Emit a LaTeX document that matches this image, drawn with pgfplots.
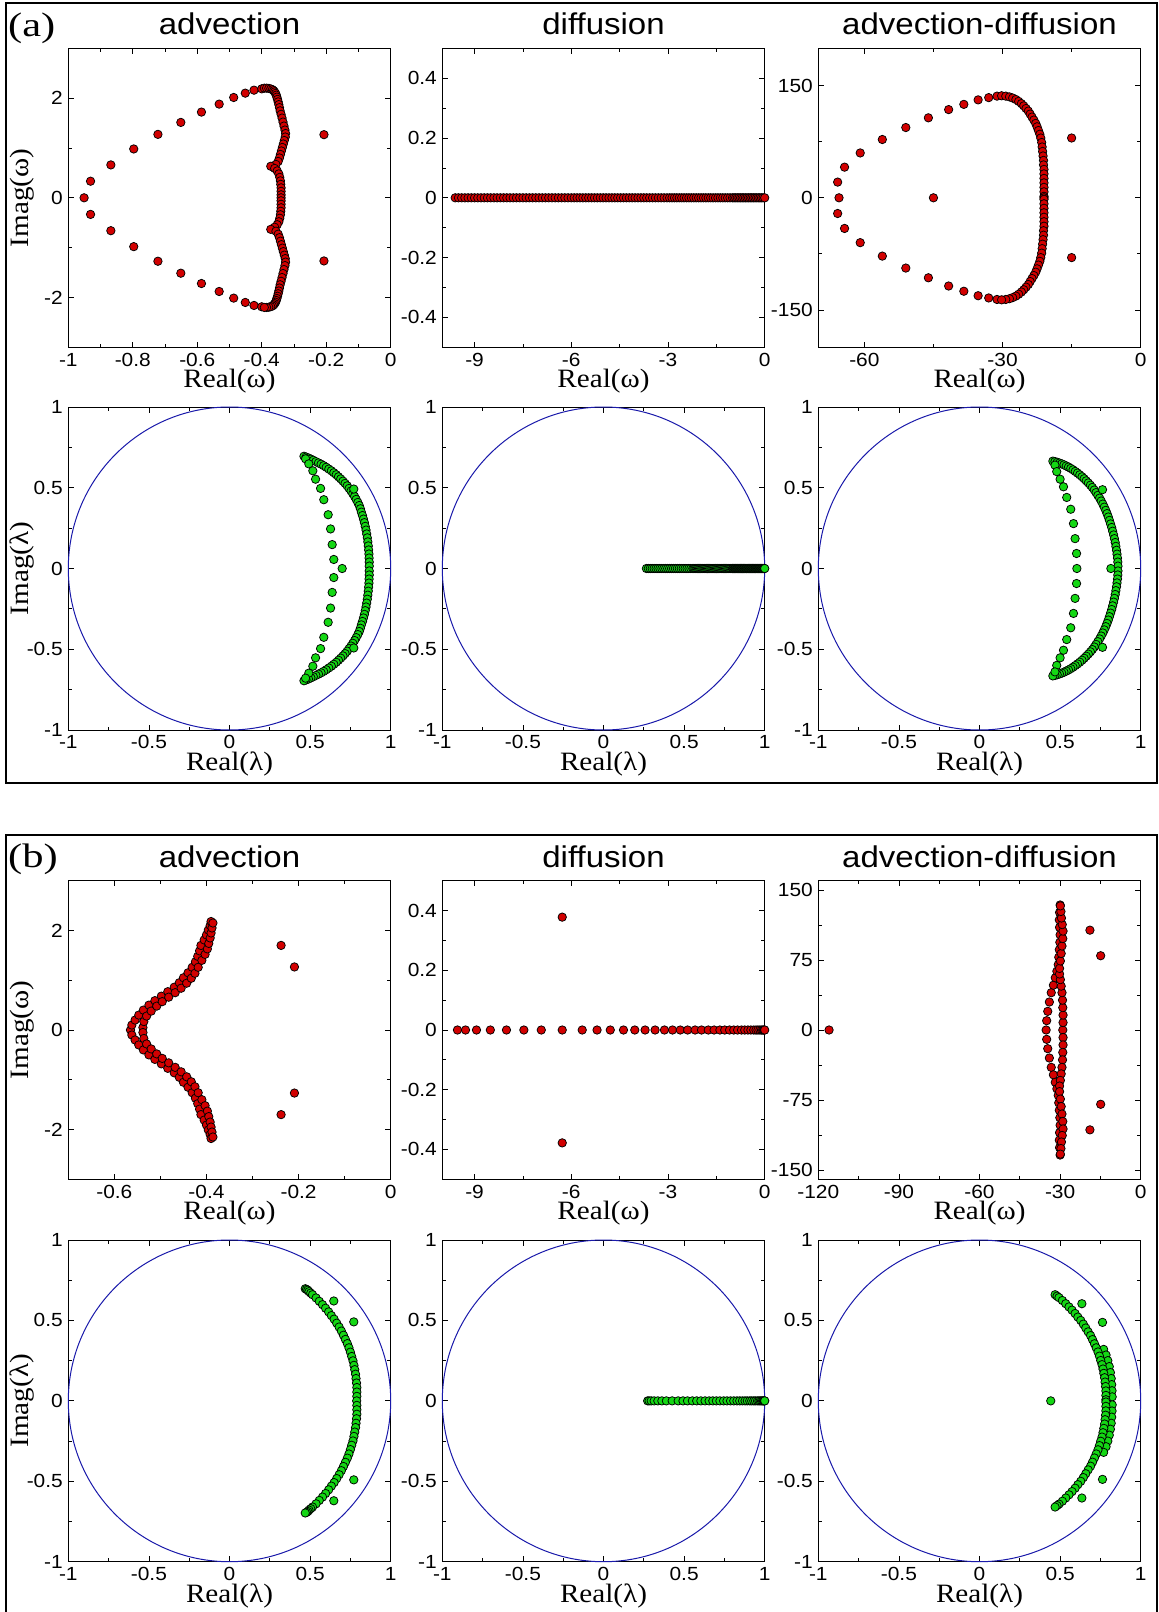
\documentclass[border=0pt]{standalone}
\usepackage{fontspec}
\setmainfont{Liberation Serif}[FakeStretch=1.1]
\newfontfamily\sansf{Liberation Sans}[FakeStretch=1.1]
\newfontfamily\panf{Liberation Serif}[FakeStretch=1.25]
\usepackage{pgfplots}
\pgfplotsset{compat=1.18}
\definecolor{mred}{RGB}{210,0,0}
\definecolor{mgreen}{RGB}{20,215,20}
\definecolor{mblue}{RGB}{25,25,170}
\newcommand{\tickfont}{\sansf\fontsize{19bp}{19bp}\selectfont}
\newcommand{\titlefont}{\sansf\fontsize{30bp}{30bp}\selectfont}
\newcommand{\labfont}{\rmfamily\fontsize{26.5bp}{26.5bp}\selectfont}
\newcommand{\panfont}{\panf\fontsize{34bp}{34bp}\selectfont}
\pgfplotsset{
  base/.style={
    scale only axis, width=322.4bp, clip=false, anchor=north west,
    axis line style={line width=1bp, black},
    every tick/.style={black, line width=0.8bp},
    tick align=inside,
    major tick length=5.5bp, minor tick length=3.5bp,
    tick label style={font=\tickfont},
    /pgf/number format/assume math mode=true,
    xticklabel style={inner sep=0pt, anchor=north, yshift=-5.5bp},
    yticklabel style={inner sep=0pt, anchor=east, xshift=-5.3bp},
    xlabel style={font=\labfont, inner sep=0pt, at={(axis description cs:0.5,0)}, anchor=north, yshift=-21.5bp},
    ylabel style={font=\labfont, inner sep=0pt, at={(axis description cs:-0.1445,0.5)}, anchor=center},
    title style={font=\titlefont, inner sep=0pt, at={(axis description cs:0.5,1)}, anchor=base, yshift=7.5bp},
  },
  lam/.style={xmin=-1, xmax=1, ymin=-1, ymax=1,
    xtick={-1,-0.5,0,0.5,1}, minor xtick={-0.75,-0.25,0.25,0.75},
    ytick={-1,-0.5,0,0.5,1}, minor ytick={-0.75,-0.25,0.25,0.75},
    xlabel={Real(λ)}},
  redpts/.style={only marks, mark=*, mark size=4.2bp, mark options={fill=mred, draw=black, line width=0.75bp}},
  grnpts/.style={only marks, mark=*, mark size=4.2bp, mark options={fill=mgreen, draw=black, line width=0.75bp}},
}
\begin{document}
\begin{tikzpicture}
\path[use as bounding box] (0,0) rectangle (1159bp,-1612bp);
% frames
\draw[line width=2.2bp, black] (6bp,-3bp) rectangle (1157bp,-783bp);
\draw[line width=2.2bp, black] (6bp,-1613bp) -- (6bp,-835bp) -- (1157bp,-835bp) -- (1157bp,-1613bp);
\node[font=\panfont, inner sep=0pt, anchor=base west] at (8bp,-36bp) {(a)};
\node[font=\panfont, inner sep=0pt, anchor=base west] at (8bp,-867.5bp) {(b)};

% ===== (a) row 1 =====
\begin{axis}[base, at={(68.3bp,-48.3bp)}, height=299bp,
  xmin=-1, xmax=0, ymin=-3, ymax=3,
  xtick={-1,-0.8,-0.6,-0.4,-0.2,0}, minor xtick={-0.9,-0.7,-0.5,-0.3,-0.1},
  ytick={-2,0,2}, minor ytick={-1,1},
  title={advection}, xlabel={Real(ω)}, ylabel={Imag(ω)}]
\addplot[redpts] coordinates {(-0.951,0) (-0.931,0.333) (-0.868,0.66) (-0.797,0.98) (-0.722,1.273) (-0.651,1.513) (-0.587,1.72) (-0.532,1.88) (-0.487,2.013) (-0.451,2.1) (-0.424,2.16) (-0.4,2.187)
(-0.931,-0.333) (-0.868,-0.66) (-0.797,-0.98) (-0.722,-1.273) (-0.651,-1.513) (-0.587,-1.72) (-0.532,-1.88) (-0.487,-2.013) (-0.451,-2.1) (-0.424,-2.16) (-0.4,-2.187)};
\addplot[redpts] coordinates {(-0.392,2.2) (-0.385,2.2) (-0.378,2.195) (-0.372,2.185) (-0.367,2.17) (-0.363,2.15) (-0.36,2.125) (-0.357,2.095) (-0.355,2.06) (-0.353,2.02) (-0.351,1.975) (-0.349,1.925) (-0.347,1.87) (-0.345,1.81) (-0.343,1.745) (-0.34,1.675) (-0.337,1.6) (-0.334,1.52) (-0.331,1.44) (-0.328,1.36) (-0.326,1.29) (-0.327,1.22) (-0.33,1.15) (-0.333,1.08) (-0.336,1.01) (-0.339,0.94) (-0.342,0.87) (-0.345,0.8) (-0.349,0.73) (-0.356,0.67) (-0.372,0.633) (-0.36,0.59) (-0.352,0.54) (-0.347,0.48) (-0.344,0.41) (-0.342,0.34) (-0.341,0.27) (-0.34,0.2) (-0.34,0.13) (-0.34,0.06) (-0.34,0)
(-0.34,-0.06) (-0.34,-0.13) (-0.34,-0.2) (-0.341,-0.27) (-0.342,-0.34) (-0.344,-0.41) (-0.347,-0.48) (-0.352,-0.54) (-0.36,-0.59) (-0.372,-0.633) (-0.356,-0.67) (-0.349,-0.73) (-0.345,-0.8) (-0.342,-0.87) (-0.339,-0.94) (-0.336,-1.01) (-0.333,-1.08) (-0.33,-1.15) (-0.327,-1.22) (-0.326,-1.29) (-0.328,-1.36) (-0.331,-1.44) (-0.334,-1.52) (-0.337,-1.6) (-0.34,-1.675) (-0.343,-1.745) (-0.345,-1.81) (-0.347,-1.87) (-0.349,-1.925) (-0.351,-1.975) (-0.353,-2.02) (-0.355,-2.06) (-0.357,-2.095) (-0.36,-2.125) (-0.363,-2.15) (-0.367,-2.17) (-0.372,-2.185) (-0.378,-2.195) (-0.385,-2.2) (-0.392,-2.2)};
\addplot[redpts] coordinates {(-0.207,1.267) (-0.207,-1.267)};
\end{axis}

\begin{axis}[base, at={(442.3bp,-48.3bp)}, height=299bp,
  xmin=-10, xmax=0, ymin=-0.5, ymax=0.5,
  xtick={-9,-6,-3,0}, minor xtick={-7.5,-4.5,-1.5},
  ytick={-0.4,-0.2,0,0.2,0.4}, minor ytick={-0.3,-0.1,0.1,0.3},
  title={diffusion}, xlabel={Real(ω)}]
\addplot[redpts] coordinates {(-9.6,0) (-9.5,0) (-9.4,0) (-9.3,0) (-9.2,0) (-9.1,0) (-9.0,0) (-8.9,0) (-8.8,0) (-8.7,0) (-8.6,0) (-8.5,0) (-8.4,0) (-8.3,0) (-8.2,0) (-8.1,0) (-8.0,0) (-7.9,0) (-7.8,0) (-7.7,0) (-7.6,0) (-7.5,0) (-7.4,0) (-7.3,0) (-7.2,0) (-7.1,0) (-7.0,0) (-6.9,0) (-6.8,0) (-6.7,0) (-6.6,0) (-6.5,0) (-6.4,0) (-6.3,0) (-6.2,0) (-6.1,0) (-6.0,0)
(-5.91,0) (-5.82,0) (-5.73,0) (-5.64,0) (-5.55,0) (-5.46,0) (-5.37,0) (-5.28,0) (-5.19,0) (-5.10,0) (-5.01,0) (-4.92,0) (-4.83,0) (-4.74,0) (-4.65,0) (-4.56,0) (-4.47,0) (-4.38,0) (-4.29,0) (-4.20,0) (-4.11,0) (-4.02,0) (-3.93,0) (-3.84,0) (-3.75,0) (-3.66,0) (-3.57,0) (-3.48,0) (-3.39,0) (-3.30,0) (-3.21,0) (-3.12,0) (-3.03,0)
(-2.95,0) (-2.875,0) (-2.8,0) (-2.725,0) (-2.65,0) (-2.575,0) (-2.5,0) (-2.425,0) (-2.35,0) (-2.275,0) (-2.2,0) (-2.125,0) (-2.05,0) (-1.975,0) (-1.9,0) (-1.825,0) (-1.75,0) (-1.675,0) (-1.6,0) (-1.525,0) (-1.45,0) (-1.375,0) (-1.3,0) (-1.225,0) (-1.15,0) (-1.075,0) (-1.0,0)
(-0.95,0) (-0.9,0) (-0.85,0) (-0.8,0) (-0.75,0) (-0.7,0) (-0.65,0) (-0.6,0) (-0.55,0) (-0.5,0) (-0.45,0) (-0.4,0) (-0.35,0) (-0.3,0) (-0.25,0) (-0.2,0) (-0.15,0) (-0.1,0) (-0.05,0) (0,0)};
\end{axis}

\begin{axis}[base, at={(818.3bp,-48.3bp)}, height=299bp,
  xmin=-70, xmax=0, ymin=-200, ymax=200,
  xtick={-60,-30,0}, minor xtick={-45,-15},
  ytick={-150,0,150}, minor ytick={-75,75},
  title={advection-diffusion}, xlabel={Real(ω)}]
\addplot[redpts] coordinates {(-65.5,0) (-65.8,21) (-64.3,41) (-60.9,60) (-56.1,78) (-51.0,94) (-46.1,107) (-41.7,118) (-38.4,125) (-35.3,131) (-33.0,134) (-31.2,136)
(-65.8,-21) (-64.3,-41) (-60.9,-60) (-56.1,-78) (-51.0,-94) (-46.1,-107) (-41.7,-118) (-38.4,-125) (-35.3,-131) (-33.0,-134) (-31.2,-136)};
\addplot[redpts] coordinates {(-30.2,136.5) (-29.3,136) (-28.5,135) (-27.8,133.5) (-27.1,131.5) (-26.5,129) (-25.9,126) (-25.4,123) (-24.9,119.5) (-24.4,116) (-24.0,112) (-23.6,108) (-23.2,104) (-22.8,99.5) (-22.5,95) (-22.2,90) (-21.9,85) (-21.7,80) (-21.5,74) (-21.4,68) (-21.3,62) (-21.2,56) (-21.1,50) (-21.1,44) (-21.0,38) (-21.0,32) (-21.0,26) (-21.0,20) (-21.0,14) (-21.0,8) (-21.0,2) (-21.0,0)
(-21.0,-2) (-21.0,-8) (-21.0,-14) (-21.0,-20) (-21.0,-26) (-21.0,-32) (-21.0,-38) (-21.1,-44) (-21.1,-50) (-21.2,-56) (-21.3,-62) (-21.4,-68) (-21.5,-74) (-21.7,-80) (-21.9,-85) (-22.2,-90) (-22.5,-95) (-22.8,-99.5) (-23.2,-104) (-23.6,-108) (-24.0,-112) (-24.4,-116) (-24.9,-119.5) (-25.4,-123) (-25.9,-126) (-26.5,-129) (-27.1,-131.5) (-27.8,-133.5) (-28.5,-135) (-29.3,-136) (-30.2,-136.5)};
\addplot[redpts] coordinates {(-45,0) (-15,80) (-15,-80)};
\end{axis}

% ===== (a) row 2 =====
\begin{axis}[base, lam, at={(68.3bp,-407bp)}, height=323bp, ylabel={Imag(λ)}]
\draw[mblue, line width=1bp] (axis cs:0,0) ellipse [x radius=1, y radius=1];
\addplot[grnpts] coordinates {(0.462,0.695) (0.475,0.69) (0.49,0.684) (0.505,0.677) (0.52,0.67) (0.536,0.662) (0.552,0.654) (0.568,0.646) (0.584,0.637) (0.6,0.627) (0.616,0.616) (0.632,0.605) (0.647,0.593) (0.662,0.581) (0.676,0.568) (0.69,0.555) (0.704,0.541) (0.717,0.527) (0.73,0.512) (0.742,0.496) (0.754,0.48) (0.765,0.463) (0.776,0.446) (0.786,0.428) (0.796,0.409) (0.805,0.39) (0.812,0.37) (0.818,0.349) (0.825,0.328) (0.831,0.306) (0.837,0.284) (0.842,0.261) (0.847,0.238) (0.851,0.214) (0.855,0.19) (0.858,0.165) (0.861,0.14) (0.863,0.115) (0.865,0.09) (0.866,0.065) (0.867,0.04) (0.867,0.015)
(0.867,-0.015) (0.867,-0.04) (0.866,-0.065) (0.865,-0.09) (0.863,-0.115) (0.861,-0.14) (0.858,-0.165) (0.855,-0.19) (0.851,-0.214) (0.847,-0.238) (0.842,-0.261) (0.837,-0.284) (0.831,-0.306) (0.825,-0.328) (0.818,-0.349) (0.812,-0.37) (0.805,-0.39) (0.796,-0.409) (0.786,-0.428) (0.776,-0.446) (0.765,-0.463) (0.754,-0.48) (0.742,-0.496) (0.73,-0.512) (0.717,-0.527) (0.704,-0.541) (0.69,-0.555) (0.676,-0.568) (0.662,-0.581) (0.647,-0.593) (0.632,-0.605) (0.616,-0.616) (0.6,-0.627) (0.584,-0.637) (0.568,-0.646) (0.552,-0.654) (0.536,-0.662) (0.52,-0.67) (0.505,-0.677) (0.49,-0.684) (0.475,-0.69) (0.462,-0.695)};
\addplot[grnpts] coordinates {(0.472,0.679) (0.492,0.648) (0.517,0.605) (0.534,0.553) (0.565,0.496) (0.585,0.426) (0.612,0.333) (0.627,0.245) (0.637,0.148) (0.647,0.056)
(0.647,-0.056) (0.637,-0.148) (0.627,-0.245) (0.612,-0.333) (0.585,-0.426) (0.565,-0.496) (0.534,-0.553) (0.517,-0.605) (0.492,-0.648) (0.472,-0.679)};
\addplot[grnpts] coordinates {(0.699,0) (0.771,0.492) (0.771,-0.492)};
\end{axis}

\begin{axis}[base, lam, at={(442.3bp,-407bp)}, height=323bp]
\draw[mblue, line width=1bp] (axis cs:0,0) ellipse [x radius=1, y radius=1];
\addplot[grnpts] coordinates {(0.266,0) (0.278,0) (0.290,0) (0.302,0) (0.314,0) (0.326,0) (0.338,0) (0.350,0) (0.362,0) (0.374,0) (0.386,0) (0.398,0) (0.410,0) (0.422,0) (0.434,0) (0.446,0) (0.458,0) (0.470,0) (0.482,0) (0.494,0) (0.506,0) (0.518,0) (0.530,0) (0.542,0) (0.554,0)
(0.561,0) (0.568,0) (0.575,0) (0.582,0) (0.589,0) (0.596,0) (0.603,0) (0.610,0) (0.617,0) (0.624,0) (0.631,0) (0.638,0) (0.645,0) (0.652,0) (0.659,0) (0.666,0) (0.673,0) (0.680,0) (0.687,0) (0.694,0) (0.701,0) (0.708,0) (0.715,0) (0.722,0) (0.729,0) (0.736,0) (0.743,0) (0.750,0) (0.757,0) (0.764,0) (0.771,0) (0.778,0) (0.785,0) (0.792,0) (0.799,0)
(0.803,0) (0.807,0) (0.811,0) (0.815,0) (0.819,0) (0.823,0) (0.827,0) (0.831,0) (0.835,0) (0.839,0) (0.843,0) (0.847,0) (0.851,0) (0.855,0) (0.859,0) (0.863,0) (0.867,0) (0.871,0) (0.875,0) (0.879,0) (0.883,0) (0.887,0) (0.891,0) (0.895,0) (0.899,0) (0.903,0) (0.907,0) (0.911,0) (0.915,0) (0.919,0) (0.923,0) (0.927,0) (0.931,0) (0.935,0) (0.939,0) (0.943,0) (0.947,0) (0.951,0) (0.955,0) (0.959,0) (0.963,0) (0.967,0) (0.971,0) (0.975,0) (0.979,0) (0.983,0) (0.987,0) (0.991,0) (0.995,0) (0.999,0) (1.0,0)};
\end{axis}

\begin{axis}[base, lam, at={(818.3bp,-407bp)}, height=323bp]
\draw[mblue, line width=1bp] (axis cs:0,0) ellipse [x radius=1, y radius=1];
\addplot[grnpts] coordinates {(0.455,0.665) (0.468,0.662) (0.482,0.658) (0.496,0.653) (0.51,0.648) (0.524,0.642) (0.538,0.635) (0.552,0.628) (0.566,0.62) (0.58,0.611) (0.594,0.601) (0.608,0.591) (0.622,0.58) (0.636,0.568) (0.649,0.556) (0.662,0.543) (0.675,0.53) (0.688,0.516) (0.7,0.502) (0.712,0.486) (0.723,0.47) (0.734,0.453) (0.745,0.436) (0.755,0.418) (0.765,0.399) (0.774,0.38) (0.783,0.36) (0.791,0.34) (0.799,0.319) (0.806,0.298) (0.813,0.276) (0.82,0.254) (0.826,0.231) (0.832,0.208) (0.837,0.185) (0.842,0.161) (0.846,0.137) (0.85,0.113) (0.853,0.089) (0.856,0.065) (0.858,0.04) (0.859,0.015)
(0.859,-0.015) (0.858,-0.04) (0.856,-0.065) (0.853,-0.089) (0.85,-0.113) (0.846,-0.137) (0.842,-0.161) (0.837,-0.185) (0.832,-0.208) (0.826,-0.231) (0.82,-0.254) (0.813,-0.276) (0.806,-0.298) (0.799,-0.319) (0.791,-0.34) (0.783,-0.36) (0.774,-0.38) (0.765,-0.399) (0.755,-0.418) (0.745,-0.436) (0.734,-0.453) (0.723,-0.47) (0.712,-0.486) (0.7,-0.502) (0.688,-0.516) (0.675,-0.53) (0.662,-0.543) (0.649,-0.556) (0.636,-0.568) (0.622,-0.58) (0.608,-0.591) (0.594,-0.601) (0.58,-0.611) (0.566,-0.62) (0.552,-0.628) (0.538,-0.635) (0.524,-0.642) (0.51,-0.648) (0.496,-0.653) (0.482,-0.658) (0.468,-0.662) (0.455,-0.665)};
\addplot[grnpts] coordinates {(0.468,0.64) (0.479,0.6) (0.5,0.553) (0.521,0.506) (0.541,0.44) (0.566,0.367) (0.583,0.278) (0.593,0.185) (0.602,0.093) (0.604,0)
(0.602,-0.093) (0.593,-0.185) (0.583,-0.278) (0.566,-0.367) (0.541,-0.44) (0.521,-0.506) (0.5,-0.553) (0.479,-0.6) (0.468,-0.64)};
\addplot[grnpts] coordinates {(0.815,0) (0.763,0.488) (0.763,-0.488)};
\end{axis}

% ===== (b) row 3 =====
\begin{axis}[base, at={(68.3bp,-880.7bp)}, height=298.6bp,
  xmin=-0.7, xmax=0, ymin=-3, ymax=3,
  xtick={-0.6,-0.4,-0.2,0}, minor xtick={-0.5,-0.3,-0.1},
  ytick={-2,0,2}, minor ytick={-1,1},
  title={advection}, xlabel={Real(ω)}, ylabel={Imag(ω)}]
\addplot[redpts] coordinates {(-0.565,0) (-0.562,0.1) (-0.555,0.2) (-0.547,0.3) (-0.537,0.4) (-0.525,0.5) (-0.512,0.59) (-0.498,0.68) (-0.484,0.77) (-0.47,0.86) (-0.459,0.95) (-0.45,1.05) (-0.44,1.15) (-0.431,1.26) (-0.424,1.37) (-0.419,1.48) (-0.415,1.59) (-0.412,1.7) (-0.405,1.81) (-0.4,1.91) (-0.396,2.01) (-0.392,2.1) (-0.39,2.18)
(-0.562,-0.1) (-0.555,-0.2) (-0.547,-0.3) (-0.537,-0.4) (-0.525,-0.5) (-0.512,-0.59) (-0.498,-0.68) (-0.484,-0.77) (-0.47,-0.86) (-0.459,-0.95) (-0.45,-1.05) (-0.44,-1.15) (-0.431,-1.26) (-0.424,-1.37) (-0.419,-1.48) (-0.415,-1.59) (-0.412,-1.7) (-0.405,-1.81) (-0.4,-1.91) (-0.396,-2.01) (-0.392,-2.1) (-0.39,-2.18)};
\addplot[redpts] coordinates {(-0.538,0.05) (-0.536,0.17) (-0.53,0.28) (-0.52,0.38) (-0.508,0.48) (-0.496,0.57) (-0.482,0.66) (-0.468,0.75) (-0.455,0.84) (-0.443,0.94) (-0.433,1.04) (-0.425,1.14) (-0.418,1.26) (-0.41,1.4) (-0.403,1.52) (-0.398,1.63) (-0.395,1.74) (-0.392,1.85) (-0.39,1.95) (-0.388,2.05) (-0.386,2.15)
(-0.538,-0.05) (-0.536,-0.17) (-0.53,-0.28) (-0.52,-0.38) (-0.508,-0.48) (-0.496,-0.57) (-0.482,-0.66) (-0.468,-0.75) (-0.455,-0.84) (-0.443,-0.94) (-0.433,-1.04) (-0.425,-1.14) (-0.418,-1.26) (-0.41,-1.4) (-0.403,-1.52) (-0.398,-1.63) (-0.395,-1.74) (-0.392,-1.85) (-0.39,-1.95) (-0.388,-2.05) (-0.386,-2.15)};
\addplot[redpts] coordinates {(-0.238,1.7) (-0.209,1.267) (-0.209,-1.267) (-0.238,-1.7)};
\end{axis}

\begin{axis}[base, at={(442.3bp,-880.7bp)}, height=298.6bp,
  xmin=-10, xmax=0, ymin=-0.5, ymax=0.5,
  xtick={-9,-6,-3,0}, minor xtick={-7.5,-4.5,-1.5},
  ytick={-0.4,-0.2,0,0.2,0.4}, minor ytick={-0.3,-0.1,0.1,0.3},
  title={diffusion}, xlabel={Real(ω)}]
\addplot[redpts] coordinates {(-9.53,0) (-9.28,0) (-8.94,0) (-8.51,0) (-8.01,0) (-7.47,0) (-6.93,0) (-6.28,0) (-5.66,0) (-5.20,0) (-4.79,0) (-4.38,0) (-4.03,0) (-3.71,0) (-3.40,0) (-3.11,0) (-2.86,0) (-2.62,0) (-2.39,0) (-2.16,0) (-1.96,0) (-1.75,0) (-1.57,0) (-1.39,0) (-1.24,0) (-1.09,0) (-0.96,0) (-0.84,0) (-0.72,0) (-0.62,0) (-0.52,0) (-0.43,0) (-0.34,0) (-0.27,0) (-0.21,0) (-0.15,0) (-0.10,0) (-0.06,0) (-0.03,0) (-0.01,0) (0,0)};
\addplot[redpts] coordinates {(-6.28,0.378) (-6.28,-0.378)};
\end{axis}

\begin{axis}[base, at={(818.3bp,-880.7bp)}, height=298.6bp,
  xmin=-120, xmax=0, ymin=-160, ymax=160,
  xtick={-120,-90,-60,-30,0}, minor xtick={-105,-75,-45,-15},
  ytick={-150,-75,0,75,150}, minor ytick={-112.5,-37.5,37.5,112.5},
  title={advection-diffusion}, xlabel={Real(ω)}]
\addplot[redpts] coordinates {(-35.2,0) (-35,10) (-34.6,20) (-34,30) (-33.3,40) (-32.5,48) (-31.8,56) (-31.2,63) (-30.7,70) (-30.5,78) (-30.3,86) (-30.1,94) (-30,102) (-30.2,110) (-30.3,118) (-30.2,126) (-30,134)
(-35,-10) (-34.6,-20) (-34,-30) (-33.3,-40) (-32.5,-48) (-31.8,-56) (-31.2,-63) (-30.7,-70) (-30.5,-78) (-30.3,-86) (-30.1,-94) (-30,-102) (-30.2,-110) (-30.3,-118) (-30.2,-126) (-30,-134)};
\addplot[redpts] coordinates {(-29,0) (-28.9,8) (-28.9,16) (-29,24) (-29.1,32) (-29.3,40) (-29.6,47) (-29.9,54) (-30.2,60) (-30.2,66) (-29.9,74) (-29.6,82) (-29.3,90) (-29,98) (-28.9,106) (-29.2,113) (-29.5,120) (-29.7,127) (-29.9,133)
(-28.9,-8) (-28.9,-16) (-29,-24) (-29.1,-32) (-29.3,-40) (-29.6,-47) (-29.9,-54) (-30.2,-60) (-30.2,-66) (-29.9,-74) (-29.6,-82) (-29.3,-90) (-29,-98) (-28.9,-106) (-29.2,-113) (-29.5,-120) (-29.7,-127) (-29.9,-133)};
\addplot[redpts] coordinates {(-116,0) (-18.9,107) (-14.9,79.6) (-14.9,-79.6) (-18.9,-107)};
\end{axis}

% ===== (b) row 4 =====
\begin{axis}[base, lam, at={(68.3bp,-1240bp)}, height=321.7bp, ylabel={Imag(λ)}]
\draw[mblue, line width=1bp] (axis cs:0,0) ellipse [x radius=1, y radius=1];
\addplot[grnpts] coordinates {(0.47,0.697) (0.478,0.693) (0.486,0.688) (0.493,0.679) (0.504,0.67) (0.515,0.66) (0.537,0.64) (0.557,0.619) (0.577,0.598) (0.596,0.576) (0.615,0.553) (0.632,0.53) (0.649,0.508) (0.665,0.483) (0.68,0.459) (0.694,0.434) (0.707,0.408) (0.719,0.382) (0.731,0.356) (0.741,0.33) (0.75,0.303) (0.758,0.276) (0.766,0.249) (0.772,0.221) (0.777,0.194) (0.782,0.166) (0.785,0.139) (0.788,0.111) (0.79,0.083) (0.79,0.055) (0.79,0.028) (0.789,0)
(0.79,-0.028) (0.79,-0.055) (0.79,-0.083) (0.788,-0.111) (0.785,-0.139) (0.782,-0.166) (0.777,-0.194) (0.772,-0.221) (0.766,-0.249) (0.758,-0.276) (0.75,-0.303) (0.741,-0.33) (0.731,-0.356) (0.719,-0.382) (0.707,-0.408) (0.694,-0.434) (0.68,-0.459) (0.665,-0.483) (0.649,-0.508) (0.632,-0.53) (0.615,-0.553) (0.596,-0.576) (0.577,-0.598) (0.557,-0.619) (0.537,-0.64) (0.515,-0.66) (0.504,-0.67) (0.493,-0.679) (0.486,-0.688) (0.478,-0.693) (0.47,-0.697)};
\addplot[grnpts] coordinates {(0.647,0.621) (0.771,0.491) (0.771,-0.491) (0.647,-0.621)};
\end{axis}

\begin{axis}[base, lam, at={(442.3bp,-1240bp)}, height=321.7bp]
\draw[mblue, line width=1bp] (axis cs:0,0) ellipse [x radius=1, y radius=1];
\addplot[grnpts] coordinates {(0.274,0) (0.283,0) (0.296,0) (0.314,0) (0.337,0) (0.362,0) (0.390,0) (0.426,0) (0.463,0) (0.493,0) (0.521,0) (0.551,0) (0.578,0) (0.604,0) (0.630,0) (0.655,0) (0.678,0) (0.700,0) (0.722,0) (0.745,0) (0.766,0) (0.788,0) (0.808,0) (0.828,0) (0.845,0) (0.862,0) (0.878,0) (0.892,0) (0.907,0) (0.919,0) (0.932,0) (0.943,0) (0.955,0) (0.964,0) (0.972,0) (0.980,0) (0.987,0) (0.992,0) (0.996,0) (0.999,0) (1.000,0)};
\end{axis}

\begin{axis}[base, lam, at={(818.3bp,-1240bp)}, height=321.7bp]
\draw[mblue, line width=1bp] (axis cs:0,0) ellipse [x radius=1, y radius=1];
\addplot[grnpts] coordinates {(0.77,0.32) (0.785,0.285) (0.796,0.25) (0.805,0.213) (0.812,0.176) (0.817,0.139) (0.82,0.101) (0.822,0.063) (0.823,0.025)
(0.823,-0.025) (0.822,-0.063) (0.82,-0.101) (0.817,-0.139) (0.812,-0.176) (0.805,-0.213) (0.796,-0.25) (0.785,-0.285) (0.77,-0.32)};
\addplot[grnpts] coordinates {(0.469,0.66) (0.481,0.651) (0.493,0.642) (0.514,0.624) (0.535,0.604) (0.555,0.584) (0.574,0.564) (0.593,0.543) (0.61,0.521) (0.628,0.5) (0.644,0.477) (0.659,0.453) (0.674,0.429) (0.689,0.406) (0.701,0.381) (0.713,0.355) (0.724,0.33) (0.735,0.304) (0.744,0.278) (0.752,0.251) (0.76,0.225) (0.766,0.198) (0.771,0.171) (0.776,0.144) (0.779,0.117) (0.782,0.089) (0.784,0.062) (0.784,0.034) (0.784,0.007)
(0.784,-0.007) (0.784,-0.034) (0.784,-0.062) (0.782,-0.089) (0.779,-0.117) (0.776,-0.144) (0.771,-0.171) (0.766,-0.198) (0.76,-0.225) (0.752,-0.251) (0.744,-0.278) (0.735,-0.304) (0.724,-0.33) (0.713,-0.355) (0.701,-0.381) (0.689,-0.406) (0.674,-0.429) (0.659,-0.453) (0.644,-0.477) (0.628,-0.5) (0.61,-0.521) (0.593,-0.543) (0.574,-0.564) (0.555,-0.584) (0.535,-0.604) (0.514,-0.624) (0.493,-0.642) (0.481,-0.651) (0.469,-0.66)};
\addplot[grnpts] coordinates {(0.442,0) (0.635,0.604) (0.763,0.488) (0.763,-0.488) (0.635,-0.604)};
\end{axis}
\end{tikzpicture}
\end{document}
